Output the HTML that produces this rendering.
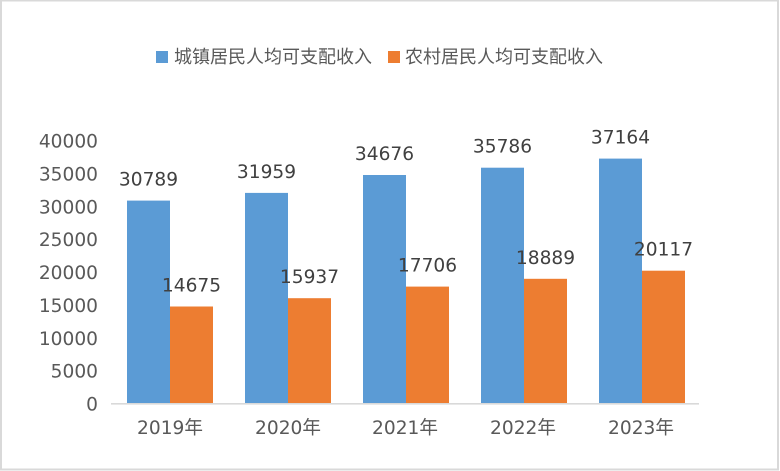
<!DOCTYPE html>
<html><head><meta charset="utf-8"><style>
html,body{margin:0;padding:0;background:#fff;}
svg{display:block;}
text{font-family:"DejaVu Sans","Liberation Sans","Noto Sans CJK SC",sans-serif;}
</style></head><body>
<svg width="780" height="471" viewBox="0 0 780 471" xmlns="http://www.w3.org/2000/svg">
<rect x="0" y="0" width="780" height="471" fill="#fff"/>
<rect x="1" y="0.5" width="777" height="469" fill="none" stroke="#d9d9d9" stroke-width="2"/>
<!-- legend -->
<rect x="156" y="51" width="12" height="12" fill="#5B9BD5"/>
<text x="174" y="63" font-size="18" fill="#595959" font-family="Noto Sans CJK SC, sans-serif">城镇居民人均可支配收入</text>
<rect x="388" y="51" width="12" height="12" fill="#ED7D31"/>
<text x="405" y="63" font-size="18" fill="#595959" font-family="Noto Sans CJK SC, sans-serif">农村居民人均可支配收入</text>
<!-- y ticks -->
<g font-size="18.6" fill="#595959" text-anchor="end">
<text x="98" y="147.5">40000</text>
<text x="98" y="180.4">35000</text>
<text x="98" y="213.3">30000</text>
<text x="98" y="246.2">25000</text>
<text x="98" y="279.0">20000</text>
<text x="98" y="311.9">15000</text>
<text x="98" y="344.8">10000</text>
<text x="98" y="377.7">5000</text>
<text x="98" y="410.5">0</text>
</g>
<!-- bars -->
<g>
<rect x="127" y="200.6" width="43" height="202.4" fill="#5B9BD5"/>
<rect x="170" y="306.5" width="43" height="96.5" fill="#ED7D31"/>
<rect x="245" y="192.9" width="43" height="210.1" fill="#5B9BD5"/>
<rect x="288" y="298.2" width="43" height="104.8" fill="#ED7D31"/>
<rect x="363" y="175.0" width="43" height="228.0" fill="#5B9BD5"/>
<rect x="406" y="286.6" width="43" height="116.4" fill="#ED7D31"/>
<rect x="481" y="167.7" width="43" height="235.3" fill="#5B9BD5"/>
<rect x="524" y="278.8" width="43" height="124.2" fill="#ED7D31"/>
<rect x="599" y="158.6" width="43" height="244.4" fill="#5B9BD5"/>
<rect x="642" y="270.7" width="43" height="132.3" fill="#ED7D31"/>
</g>
<line x1="111" y1="403.8" x2="699" y2="403.8" stroke="#d9d9d9" stroke-width="1.6"/>
<!-- data labels -->
<g font-size="18.6" fill="#404040" text-anchor="middle">
<text x="148.5" y="185.6">30789</text>
<text x="191.5" y="291.5">14675</text>
<text x="266.5" y="177.9">31959</text>
<text x="309.5" y="283.2">15937</text>
<text x="384.5" y="160.0">34676</text>
<text x="427.5" y="271.6">17706</text>
<text x="502.5" y="152.7">35786</text>
<text x="545.5" y="263.8">18889</text>
<text x="620.5" y="143.6">37164</text>
<text x="663.5" y="255.7">20117</text>
</g>
<!-- category labels -->
<g font-size="18.6" fill="#595959" text-anchor="middle">
<text x="170" y="434">2019年</text>
<text x="288" y="434">2020年</text>
<text x="405" y="434">2021年</text>
<text x="523" y="434">2022年</text>
<text x="641" y="434">2023年</text>
</g>
</svg>
</body></html>
